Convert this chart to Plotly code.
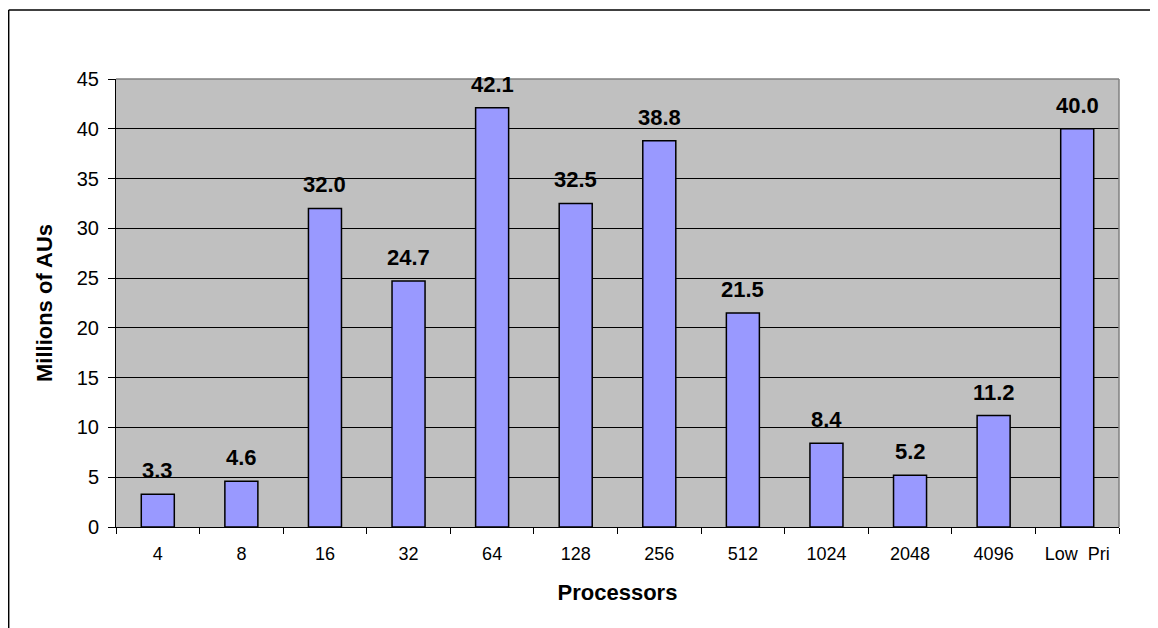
import plotly.graph_objects as go

categories = ["4", "8", "16", "32", "64", "128", "256", "512", "1024", "2048", "4096", "Low  Pri"]
values = [3.3, 4.6, 32.0, 24.7, 42.1, 32.5, 38.8, 21.5, 8.4, 5.2, 11.2, 40.0]
y_ticks = [0, 5, 10, 15, 20, 25, 30, 35, 40, 45]

FONT = "Liberation Sans, Arial, sans-serif"

fig = go.Figure()
fig.add_trace(go.Bar(
    x=categories, y=values,
    marker=dict(color="#9999FF", line=dict(color="black", width=1.5)),
    hoverinfo="x+y",
))

for i, v in enumerate(values):
    fig.add_annotation(x=i, y=v, xref="x", yref="y", text=f"<b>{v:.1f}</b>", showarrow=False,
                       yanchor="bottom", yshift=9,
                       font=dict(family=FONT, size=22, color="black"))

fig.update_layout(
    width=1150, height=620,
    margin=dict(l=108, r=39, t=71, b=101),
    paper_bgcolor="white", plot_bgcolor="#C0C0C0",
    bargap=0.605, showlegend=False,
    font=dict(family=FONT, color="black"),
)
fig.update_xaxes(
    type="category", categoryorder="array", categoryarray=categories,
    range=[-0.5, len(categories) - 0.5], autorange=False,
    tickson="boundaries", ticks="outside", ticklen=6,
    tickcolor="black", tickwidth=1, showline=True, linecolor="black", linewidth=1,
    showgrid=False, tickfont=dict(size=18, family=FONT), ticklabelstandoff=10,
    tickangle=0,
    title=dict(text="<b>Processors</b>", font=dict(size=22, family=FONT), standoff=22),
)
fig.update_yaxes(
    range=[0, 45], autorange=False, tickvals=y_ticks, ticks="outside", ticklen=7, tickcolor="black",
    showline=True, linecolor="black", linewidth=1, showgrid=True, gridcolor="black",
    gridwidth=1, zeroline=False, tickfont=dict(size=20, family=FONT), ticklabelstandoff=5,
    title=dict(text="<b>Millions of AUs</b>", font=dict(size=22, family=FONT), standoff=18),
)

# grey top/right edges of plot area
fig.add_shape(type="line", xref="paper", yref="paper", x0=0, x1=1, y0=1, y1=1,
              line=dict(color="#808080", width=1.5), layer="above")
fig.add_shape(type="line", xref="paper", yref="paper", x0=1, x1=1, y0=0, y1=1,
              line=dict(color="#808080", width=1.5), layer="above")
# outer chart border (top and left visible)
fig.add_shape(type="line", xref="paper", yref="paper", x0=-0.107, x1=1.1, y0=1.154, y1=1.154,
              line=dict(color="black", width=1.5))
fig.add_shape(type="line", xref="paper", yref="paper", x0=-0.107, x1=-0.107, y0=-0.3, y1=1.154,
              line=dict(color="black", width=1.5))

fig.write_html("out.html")
